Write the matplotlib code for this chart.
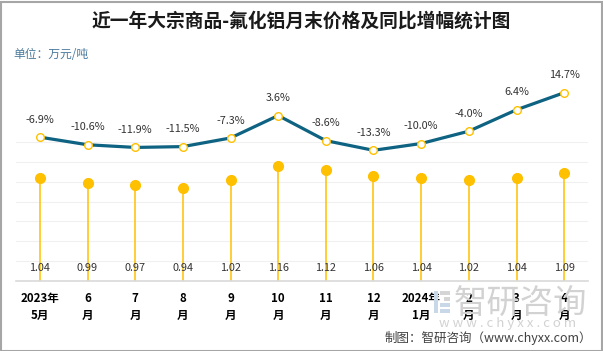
import matplotlib
matplotlib.use("Agg")
import matplotlib.pyplot as plt
from matplotlib.patches import Rectangle

plt.rcParams['font.family'] = ['Noto Sans CJK SC', 'DejaVu Sans']

categories = ["2023年\n5月", "6\n月", "7\n月", "8\n月", "9\n月", "10\n月",
              "11\n月", "12\n月", "2024年\n1月", "2\n月", "3\n月", "4\n月"]
prices = [1.04, 0.99, 0.97, 0.94, 1.02, 1.16, 1.12, 1.06, 1.04, 1.02, 1.04, 1.09]
yoy = [-6.9, -10.6, -11.9, -11.5, -7.3, 3.6, -8.6, -13.3, -10.0, -4.0, 6.4, 14.7]

W, H = 603, 351
fig = plt.figure(figsize=(W / 100, H / 100), dpi=100)
fig.patch.set_facecolor("white")

# watermark (behind everything)
wm_color = "#D2D2D2"
fig.text(454 / W, 1 - 303 / H, "智研咨询", ha="left", va="center", fontsize=24,
         color=wm_color, zorder=0)
fig.text(508 / W, 1 - 324 / H, "w w w . c h y x x . c o m", ha="center", va="center",
         fontsize=9.5, color=wm_color, zorder=0)
for (rx, ry, rw, rh, c) in [(434, 291, 4, 22, "#C9D8E8"), (440, 291, 10, 4, "#D5D5D5"),
                            (444, 297, 6, 4, "#D5D5D5"), (440, 303, 10, 4, "#C9D8E8"),
                            (440, 309, 10, 4, "#C9D8E8")]:
    fig.patches.append(Rectangle((rx / W, 1 - (ry + rh) / H), rw / W, rh / H,
                                 transform=fig.transFigure, facecolor=c,
                                 edgecolor="none", zorder=0))

left, right, bottom, top = 16, 588, 281, 82.4
ax = fig.add_axes([left / W, (H - bottom) / H, (right - left) / W, (bottom - top) / H])
ax.set_facecolor("none")
x = list(range(len(categories)))
ax.set_xlim(-0.5, len(categories) - 0.5)
ax.set_ylim(0, 2.0)

gold = "#FFC000"
ax.set_yticks([0.2, 0.4, 0.6, 0.8, 1.0, 1.2, 1.4])
ax.yaxis.grid(True, color="#F0F0F0", linewidth=0.8)
ax.set_axisbelow(True)
for s in ["top", "right", "left"]:
    ax.spines[s].set_visible(False)
ax.spines["bottom"].set_color("#D9D9D9")
ax.spines["bottom"].set_linewidth(1.2)

# lollipops
ax.vlines(x, 0, prices, color=gold, linewidth=1.1, zorder=2)
ax.plot(x, prices, linestyle="none", marker="o", markersize=7, color=gold, zorder=3)
for xi, p in zip(x, prices):
    ax.text(xi, 0.13, f"{p:.2f}", ha="center", va="center", fontsize=7.8,
            color="#333333", zorder=4)

ax.set_xticks(x)
ax.set_xticklabels(categories, fontsize=8.3, fontweight="bold", color="black",
                   linespacing=1.4)

# line on secondary axis
ax2 = ax.twinx()
ax2.set_ylim(-76.8, 19.7)
ax2.axis("off")
ax2.plot(x, yoy, color="#0E6282", linewidth=2.3, zorder=3, clip_on=False,
         solid_capstyle="round")
ax2.plot(x, yoy, linestyle="none", marker="o", markersize=5.5,
         markerfacecolor="white", markeredgecolor=gold, markeredgewidth=1.0,
         zorder=4, clip_on=False)
for xi, v in zip(x, yoy):
    ax2.annotate(f"{v:.1f}%", (xi, v), xytext=(0, 12.5), textcoords="offset points",
                 ha="center", va="center", fontsize=7.8, color="#333333",
                 annotation_clip=False)

ax.tick_params(axis="y", left=False, right=False, labelleft=False, labelright=False)
ax.tick_params(axis="x", length=0, pad=8)

# title & unit
fig.text(0.5, 1 - 21 / H, "近一年大宗商品-氟化铝月末价格及同比增幅统计图",
         ha="center", va="center", fontsize=13.5, fontweight="bold", color="#1a1a1a")
fig.text(13 / W, 1 - 55 / H, "单位：万元/吨", ha="left", va="center",
         fontsize=8.5, color="#4A7A9B")

# source
fig.text(592 / W, 1 - 338 / H, "制图：智研咨询（www.chyxx.com）", ha="right",
         va="center", fontsize=9, color="#404040")

# border
fig.patches.append(Rectangle((0.5 / W, 0.5 / H), (W - 2) / W, (H - 2) / H,
                             transform=fig.transFigure, fill=False,
                             edgecolor="#A6A6A6", linewidth=1.5))

fig.savefig("out.png", dpi=100, facecolor="white")
